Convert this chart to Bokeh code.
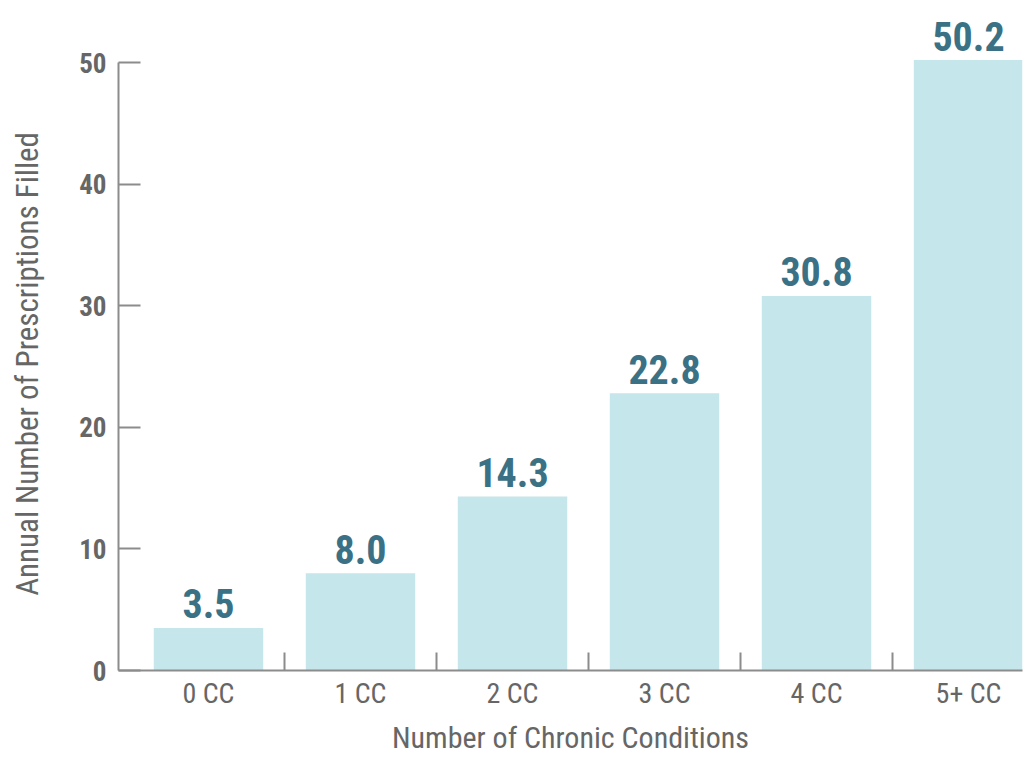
from bokeh.plotting import figure
from bokeh.models import Range1d, FixedTicker, ColumnDataSource
from bokeh.embed import file_html
from bokeh.resources import INLINE

categories = ["0 CC", "1 CC", "2 CC", "3 CC", "4 CC", "5+ CC"]
values = [3.5, 8.0, 14.3, 22.8, 30.8, 50.2]
labels = ["3.5", "8.0", "14.3", "22.8", "30.8", "50.2"]
y_ticks = [0, 10, 20, 30, 40, 50]

FONT = "Liberation Sans Narrow, Roboto Condensed, DejaVu Sans Condensed, sans-serif"
GRAY = "#666666"
AX = "#8c8c8c"
BAR = "#c5e6ea"
TEAL = "#3b7185"

xs = list(range(len(categories)))
src = ColumnDataSource(dict(x=xs, top=values, lab=labels))

p = figure(width=1025, height=757, output_backend="svg", toolbar_location=None,
           x_range=Range1d(-0.592, 5.355), y_range=Range1d(0, 55.1),
           min_border_left=118, min_border_right=3, min_border_top=0, min_border_bottom=87)
p.outline_line_color = None
p.grid.grid_line_color = None
p.background_fill_color = "white"
p.border_fill_color = "white"

p.vbar(x="x", top="top", width=0.72, bottom=0, source=src, fill_color=BAR, line_color=None)
p.text(x="x", y="top", text="lab", source=src, text_align="center", text_baseline="alphabetic",
       y_offset=-24, text_font_size="40px", text_font_style="bold", text_color=TEAL,
       text_font={"value": FONT})

xa = p.xaxis[0]
xa.ticker = FixedTicker(ticks=xs, minor_ticks=[i + 0.5 for i in xs[:-1]])
xa.major_label_overrides = {i: c for i, c in enumerate(categories)}
xa.major_tick_line_color = None
xa.minor_tick_in = 18
xa.minor_tick_out = 0
xa.minor_tick_line_color = AX
xa.minor_tick_line_width = 2
xa.axis_line_color = AX
xa.axis_line_width = 2
xa.major_label_text_font = FONT
xa.major_label_text_font_size = "28px"
xa.major_label_text_color = GRAY
xa.major_label_text_line_height = 1.0
xa.major_label_standoff = 0
xa.axis_label = "Number of Chronic Conditions"
xa.axis_label_text_font = FONT
xa.axis_label_text_font_size = "30px"
xa.axis_label_text_font_style = "normal"
xa.axis_label_text_color = GRAY
xa.axis_label_text_line_height = 1.0
xa.axis_label_standoff = 7

ya = p.yaxis[0]
ya.ticker = FixedTicker(ticks=y_ticks)
ya.bounds = (0, 50)
ya.major_tick_in = 22
ya.major_tick_out = 0
ya.major_tick_line_color = AX
ya.major_tick_line_width = 2
ya.minor_tick_line_color = None
ya.axis_line_color = AX
ya.axis_line_width = 2
ya.major_label_text_font = FONT
ya.major_label_text_font_size = "27px"
ya.major_label_text_font_style = "bold"
ya.major_label_text_color = GRAY
ya.major_label_text_baseline = "top"
ya.major_label_text_line_height = 1.8
ya.major_label_standoff = 12
ya.axis_label = "Annual Number of Prescriptions Filled" + "\u00a0" * 8
ya.axis_label_text_font = FONT
ya.axis_label_text_font_size = "31px"
ya.axis_label_text_font_style = "normal"
ya.axis_label_text_color = GRAY
ya.axis_label_standoff = 30

open("out.html", "w").write(file_html(p, INLINE))
